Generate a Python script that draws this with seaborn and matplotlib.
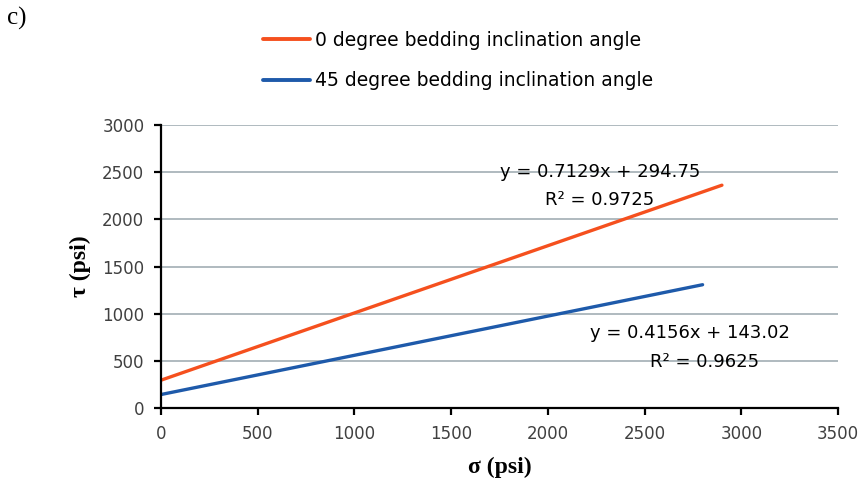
import matplotlib
matplotlib.use("Agg")
import matplotlib.pyplot as plt
import seaborn as sns
import pandas as pd
from matplotlib.lines import Line2D

# Data
series_names = ["0 degree bedding inclination angle", "45 degree bedding inclination angle"]
x_0deg = [0, 2900]
y_0deg = [295, 2362]
x_45deg = [0, 2800]
y_45deg = [143, 1307]
eq_0deg = ["y = 0.7129x + 294.75", "R² = 0.9725"]
eq_45deg = ["y = 0.4156x + 143.02", "R² = 0.9625"]
x_ticks = [0, 500, 1000, 1500, 2000, 2500, 3000, 3500]
y_ticks = [0, 500, 1000, 1500, 2000, 2500, 3000]

df = pd.DataFrame({
    "sigma": x_0deg + x_45deg,
    "tau": y_0deg + y_45deg,
    "series": [series_names[0]] * len(x_0deg) + [series_names[1]] * len(x_45deg),
})

sns.set_style("white")
plt.rcParams["font.family"] = ["DejaVu Sans"]
plt.rcParams["text.color"] = "black"
plt.rcParams["axes.labelcolor"] = "black"
serif = ["Liberation Serif", "DejaVu Serif"]

fig = plt.figure(figsize=(8.63, 4.87), dpi=100)
ax = fig.add_axes([0.1866, 0.1622, 0.971 - 0.1866, 0.7433 - 0.1622])

palette = {series_names[0]: "#F5501E", series_names[1]: "#1E5AAA"}
sns.lineplot(data=df, x="sigma", y="tau", hue="series", palette=palette,
             linewidth=2.4, ax=ax, legend=False)

ax.set_xlim(0, 3500)
ax.set_ylim(0, 3000)
ax.set_xticks(x_ticks)
ax.set_yticks(y_ticks)
ax.yaxis.grid(True, color="#A9B4BA", linewidth=1.3)
ax.xaxis.grid(False)
ax.set_axisbelow(True)
for s in ["top", "right"]:
    ax.spines[s].set_visible(False)
for s in ["left", "bottom"]:
    ax.spines[s].set_color("black")
    ax.spines[s].set_linewidth(1.6)
ax.tick_params(axis="both", which="both", direction="out", length=5, width=1.6,
               color="black", labelsize=12, labelcolor="#404040",
               bottom=True, left=True, top=False, right=False)
ax.tick_params(axis="x", pad=7)
ax.tick_params(axis="y", pad=7)

ax.set_xlabel("σ (psi)", fontsize=17, fontweight="bold", family=serif, labelpad=10, color="black")
ax.set_ylabel("τ (psi)", fontsize=17, fontweight="bold", family=serif, labelpad=8, color="black")

# equations
ax.text(2270, 2500, eq_0deg[0], fontsize=13, ha="center", va="center", color="black")
ax.text(2270, 2205, eq_0deg[1], fontsize=13, ha="center", va="center", color="black")
ax.text(2735, 795, eq_45deg[0], fontsize=13, ha="center", va="center", color="black")
ax.text(2808, 488, eq_45deg[1], fontsize=13, ha="center", va="center", color="black")

# legend
handles = [Line2D([0], [0], color=palette[n], linewidth=2.8) for n in series_names]
fig.legend(handles, series_names, loc="upper left", bbox_to_anchor=(0.285, 0.972),
           frameon=False, fontsize=13.5, handlelength=2.5, handletextpad=0.3,
           labelspacing=1.15, labelcolor="black")

fig.text(0.008, 0.985, "c)", fontsize=18, family=serif, va="top", color="black")

fig.savefig("out.png", dpi=100)
